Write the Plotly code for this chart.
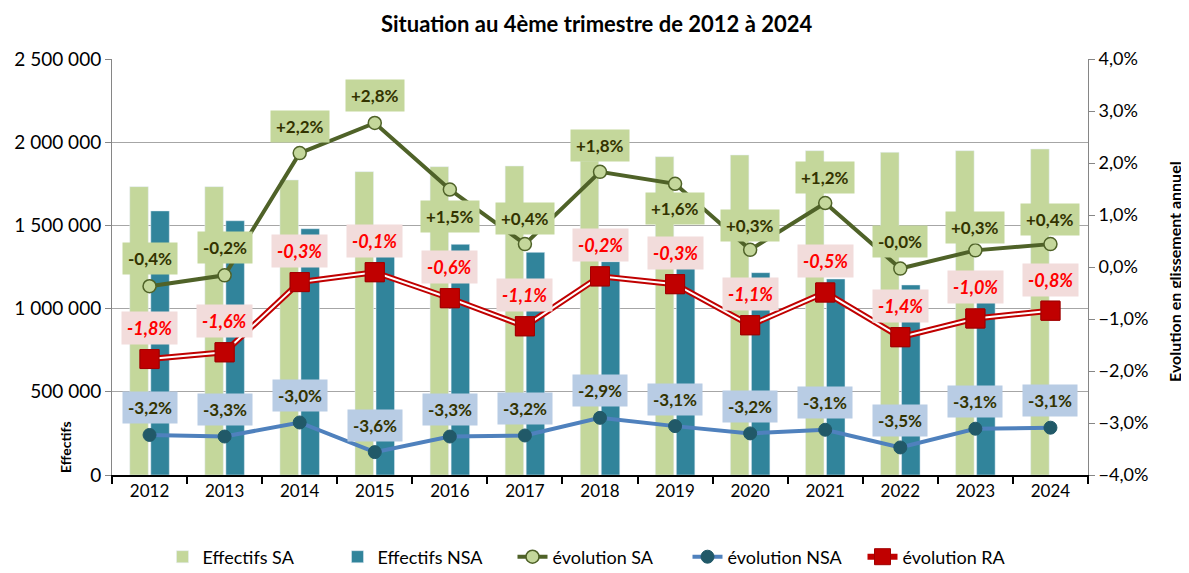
import plotly.graph_objects as go

years = ["2012", "2013", "2014", "2015", "2016", "2017", "2018", "2019", "2020", "2021", "2022", "2023", "2024"]
effectifs_sa = [1733000, 1733000, 1773000, 1823000, 1853000, 1857000, 1887000, 1913000, 1923000, 1949000, 1939000, 1949000, 1959000]
effectifs_nsa = [1587000, 1528000, 1480000, 1430000, 1386000, 1338000, 1282000, 1246000, 1216000, 1178000, 1142000, 1104000, None]
evol_sa = [-0.37, -0.16, 2.19, 2.77, 1.49, 0.44, 1.83, 1.60, 0.33, 1.23, -0.03, 0.32, 0.44]
evol_nsa = [-3.23, -3.26, -2.99, -3.56, -3.26, -3.24, -2.90, -3.06, -3.20, -3.13, -3.47, -3.11, -3.09]
evol_ra = [-1.77, -1.64, -0.29, -0.10, -0.60, -1.14, -0.18, -0.33, -1.12, -0.49, -1.35, -0.99, -0.84]

# label vertical offsets (pixels) for the SA labels (style only)
sa_label_shift = [28, 28, 27, 27, -27, 26, 26, -25, 24, 26, 27, 23, 25]

FONT = "Lato"
C_SA = "#c4d79b"
C_NSA = "#31849b"

fig = go.Figure()
fig.add_trace(go.Bar(x=years, y=effectifs_sa, name="Effectifs SA", marker_color=C_SA, yaxis="y"))
fig.add_trace(go.Bar(x=years, y=effectifs_nsa, name="Effectifs NSA", marker_color=C_NSA, yaxis="y"))

fig.add_trace(go.Scatter(x=years, y=evol_sa, name="évolution SA", yaxis="y2", mode="lines+markers",
                         line=dict(color="#4f6228", width=4),
                         marker=dict(symbol="circle", size=13, color=C_SA, line=dict(color="#4f6228", width=1.5))))
fig.add_trace(go.Scatter(x=years, y=evol_nsa, name="évolution NSA", yaxis="y2", mode="lines+markers",
                         line=dict(color="#4f81bd", width=4),
                         marker=dict(symbol="circle", size=13, color="#215968", line=dict(color="#215968", width=1))))
fig.add_trace(go.Scatter(x=years, y=evol_ra, name="évolution RA", yaxis="y2", mode="lines+markers",
                         line=dict(color="#c00000", width=6),
                         marker=dict(symbol="square", size=19, color="#c00000", line=dict(color="#a00000", width=1))))
fig.add_trace(go.Scatter(x=years, y=evol_ra, yaxis="y2", mode="lines", showlegend=False, hoverinfo="skip",
                         line=dict(color="white", width=2)))
fig.add_trace(go.Scatter(x=years, y=evol_ra, yaxis="y2", mode="markers", showlegend=False, hoverinfo="skip",
                         marker=dict(symbol="square", size=19, color="#c00000", line=dict(color="#a00000", width=1))))


def fmt(v, sign=True):
    s = f"{v:+.1f}" if sign else f"{v:.1f}"
    return s.replace(".", ",") + "%"


# page body has an 8px margin: work in screenshot pixels, convert to figure
OFF = 8
W, H = 1189 - OFF, 573 - OFF
PL, PR, PT, PB = 112, 1088, 59, 475  # plot area in screenshot pixels
ML, MR, MT, MB = PL - OFF, W - (PR - OFF), PT - OFF, H - (PB - OFF)
pw, ph = PR - PL, PB - PT


def px(x, y):
    return (x - PL) / pw, (PB - y) / ph


annotations = []
for i, y in enumerate(years):
    annotations.append(dict(x=i, y=evol_sa[i], xref="x", yref="y2", text="<b>" + fmt(evol_sa[i]) + "</b>",
                            showarrow=False, yshift=sa_label_shift[i], bgcolor=C_SA, borderpad=5,
                            xanchor="center", yanchor="middle",
                            font=dict(family=FONT, size=17, color="#333300")))
    annotations.append(dict(x=i, y=evol_nsa[i], xref="x", yref="y2", text="<b>" + fmt(evol_nsa[i], False) + "</b>",
                            showarrow=False, yshift=27, bgcolor="#b8cce4", borderpad=5,
                            xanchor="center", yanchor="middle",
                            font=dict(family=FONT, size=17, color="#333300")))
    annotations.append(dict(x=i, y=evol_ra[i], xref="x", yref="y2", text="<b><i>" + fmt(evol_ra[i], False) + "</i></b>",
                            showarrow=False, yshift=31, bgcolor="#f2dcdb", borderpad=5,
                            xanchor="center", yanchor="middle",
                            font=dict(family=FONT, size=18, color="#ff0000")))

for (x, y, txt, size, ang) in [(65, 447, "<b>Effectifs</b>", 14, -90),
                               (1174, 272, "<b>Evolution en glissement annuel</b>", 16, -90),
                               (596, 23, "<b>Situation au 4ème trimestre de 2012 à 2024</b>", 22, 0)]:
    xp, yp = px(x, y)
    annotations.append(dict(x=xp, y=yp, xref="paper", yref="paper", text=txt, textangle=ang,
                            xanchor="center", yanchor="middle",
                            showarrow=False, font=dict(family=FONT, size=size, color="black")))

fig.update_layout(
    width=W, height=H,
    margin=dict(l=ML, r=MR, t=MT, b=MB, autoexpand=False),
    paper_bgcolor="white", plot_bgcolor="white",
    separators=", ",
    barmode="group", bargap=0.44, bargroupgap=0.12,
    font=dict(family=FONT, size=15, color="black"),
    showlegend=True,
    legend=dict(orientation="h", x=0.5, xanchor="center", y=px(0, 557)[1], yanchor="middle",
                font=dict(family=FONT, size=18), entrywidth=130, tracegroupgap=0),
    xaxis=dict(type="category", tickson="boundaries", ticks="outside", ticklen=7, tickwidth=2, tickcolor="black",
               showline=True, linecolor="black", linewidth=2, showgrid=False, automargin=False,
               tickfont=dict(family=FONT, size=17), range=[-0.5, 12.5]),
    yaxis=dict(range=[0, 2500000], dtick=500000, tickformat=",d", showgrid=True, gridcolor="#a6a6a6", gridwidth=1,
               showline=True, linecolor="#868686", linewidth=1, ticks="outside", ticklen=6, tickcolor="#868686",
               tickfont=dict(family=FONT, size=19), zeroline=False, automargin=False),
    yaxis2=dict(range=[-4, 4], dtick=1, overlaying="y", side="right", tickformat=".1f", ticksuffix="%",
                showgrid=False, showline=True, linecolor="#868686", linewidth=1, ticks="outside", ticklen=6,
                tickcolor="#868686", tickfont=dict(family=FONT, size=18), zeroline=False, automargin=False),
    annotations=annotations,
)

fig.write_html("out.html")
